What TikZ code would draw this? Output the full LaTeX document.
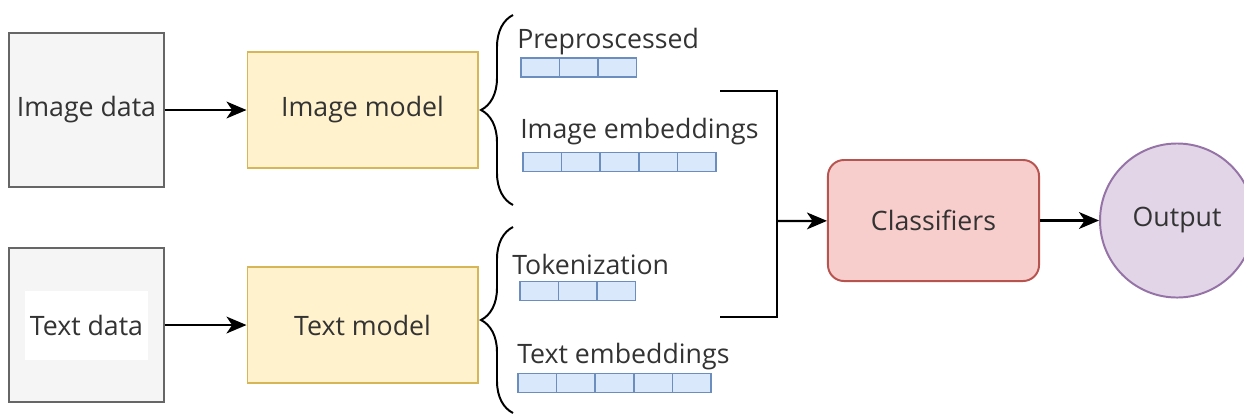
\documentclass[tikz,border=0pt]{standalone}
\usepackage{fontspec}
\setmainfont{Open Sans}
\usepackage{tikz}
\usetikzlibrary{arrows.meta, positioning, calc, decorations.pathreplacing}
\definecolor{txtgray}{HTML}{333333}
\definecolor{datafill}{HTML}{F5F5F5}
\definecolor{dataline}{HTML}{666666}
\definecolor{modelfill}{HTML}{FFF2CC}
\definecolor{modelline}{HTML}{D6B656}
\definecolor{clsfill}{HTML}{F8CECC}
\definecolor{clsline}{HTML}{B85450}
\definecolor{outfill}{HTML}{E1D5E7}
\definecolor{outline}{HTML}{9673A6}
\definecolor{cellfill}{HTML}{DAE8FC}
\definecolor{cellline}{HTML}{6C8EBF}

\begin{document}
\begin{tikzpicture}[
  x=0.025cm, y=-0.025cm,
  font=\fontsize{19}{22}\selectfont, text=txtgray,
  databox/.style={rectangle, draw=dataline, fill=datafill, line width=1.4pt, minimum width=3.85cm, minimum height=3.85cm, inner sep=0pt},
  modelbox/.style={rectangle, draw=modelline, fill=modelfill, line width=1.4pt, minimum width=5.75cm, minimum height=2.9cm},
  cell/.style={rectangle, draw=cellline, fill=cellfill, line width=1.1pt, minimum width=0.9625cm, minimum height=0.475cm, inner sep=0pt},
  lbl/.style={anchor=base west, inner sep=0pt},
  brc/.style={decorate, decoration={brace, amplitude=0.8cm}, line width=1.4pt},
  arr/.style={-{Stealth[length=5mm, width=4.2mm, inset=1.4mm]}, line width=1.6pt},
  conn/.style={line width=1.6pt},
]
\useasboundingbox (0,0) rectangle (1244,417);

% Left column: data and models
\node[databox] (imgdata) at (86.5,110) {Image data};
\node[modelbox, right=2.05cm of imgdata] (imgmodel) {Image model};
\node[databox, below=1.475cm of imgdata, label={[fill=white, minimum width=3cm, minimum height=1.725cm]center:Text data}] (txtdata) {};
\node[modelbox, right=2.05cm of txtdata] (txtmodel) {Text model};

\draw[arr] (imgdata) -- (imgmodel);
\draw[arr] (txtdata) -- (txtmodel);

% Braces
\draw[brc] (513,205) -- (513,15);
\draw[brc] (513,413) -- (513,227);

% Image outputs
\node[lbl] (pre) at (517,48) {Preproscessed};
\foreach \i in {1,...,3}
  \node[cell] (pre\i) at ({521+(\i-0.5)*38.5},67.5) {};
\node[lbl] (imgemb) at (520,138) {Image embeddings};
\foreach \i in {1,...,5}
  \node[cell] (ie\i) at ({523+(\i-0.5)*38.6},162) {};

% Text outputs
\node[lbl] (tok) at (512,274) {Tokenization};
\foreach \i in {1,...,3}
  \node[cell] (tok\i) at ({520+(\i-0.5)*38.5},291) {};
\node[lbl] (txtemb) at (517,363) {Text embeddings};
\foreach \i in {1,...,5}
  \node[cell] (te\i) at ({518+(\i-0.5)*38.6},383) {};

% Right: classifiers and output
\node[rectangle, rounded corners=0.4cm, draw=clsline, fill=clsfill, line width=1.4pt, minimum width=5.275cm, minimum height=3.025cm] (cls) at (933.5,220.5) {Classifiers};
\node[circle, draw=outline, fill=outfill, line width=1.4pt, minimum size=3.85cm, right=1.475cm of cls] (out) {Output};

% Joining lines
\coordinate (imgend) at (720,91);
\coordinate (txtend) at (720,317);
\coordinate (join) at (777,221);
\draw[conn] (imgend) -| (join);
\draw[conn] (txtend) -| (join);
\draw[arr] (join) -- (cls);
\draw[arr] (cls) -- (out);
\end{tikzpicture}
\end{document}
